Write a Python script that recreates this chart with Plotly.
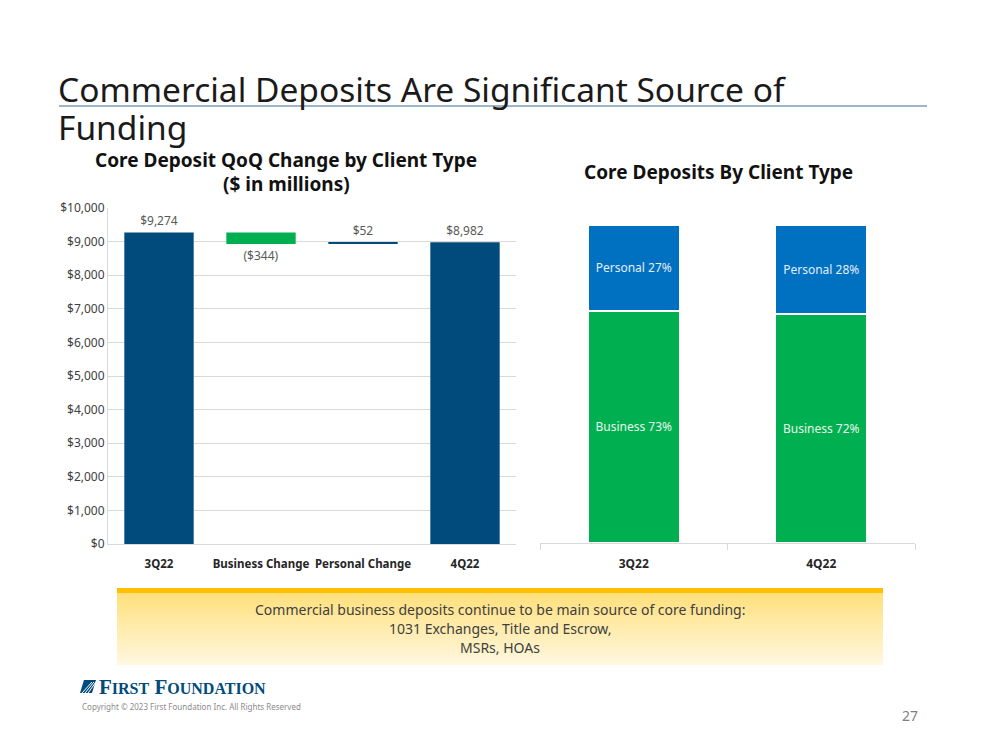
import plotly.graph_objects as go

W, H = 999, 750
def px(x): return x / W
def py(y): return 1 - y / H

# ---- Data ----
wf_categories = ["3Q22", "Business Change", "Personal Change", "4Q22"]
wf_measures = ["absolute", "relative", "relative", "total"]
wf_values = [9274, -344, 52, 8982]
wf_labels = ["$9,274", "($344)", "$52", "$8,982"]
y_ticks = [0, 1000, 2000, 3000, 4000, 5000, 6000, 7000, 8000, 9000, 10000]

stack_categories = ["3Q22", "4Q22"]
business_pct = [73, 72]
personal_pct = [27, 28]

NAVY = "#004A7C"
GREEN = "#00B050"
BLUE = "#0070C0"
FONT = "Noto Sans"

fig = go.Figure()

fig.add_trace(go.Waterfall(
    x=wf_categories, y=wf_values, measure=wf_measures,
    text=wf_labels, textposition="outside",
    textfont=dict(family=FONT, size=12, color="#595959"),
    increasing=dict(marker=dict(color=NAVY)),
    decreasing=dict(marker=dict(color=GREEN)),
    totals=dict(marker=dict(color=NAVY)),
    connector=dict(visible=False),
    width=0.68, cliponaxis=False,
    xaxis="x", yaxis="y", showlegend=False, hoverinfo="skip",
))

fig.add_trace(go.Bar(
    x=stack_categories, y=business_pct, name="Business",
    text=[f"Business {v}%" for v in business_pct],
    textposition="inside", insidetextanchor="middle",
    textfont=dict(family=FONT, size=12, color="#E8F5EC"),
    marker=dict(color=GREEN, line=dict(color="white", width=1.5)),
    width=0.49, xaxis="x2", yaxis="y2", showlegend=False, hoverinfo="skip",
))
fig.add_trace(go.Bar(
    x=stack_categories, y=personal_pct, name="Personal",
    text=[f"Personal {v}%" for v in personal_pct],
    textposition="inside", insidetextanchor="middle",
    textfont=dict(family=FONT, size=12, color="#E3EEF9"),
    marker=dict(color=BLUE, line=dict(color="white", width=1.5)),
    width=0.49, xaxis="x2", yaxis="y2", showlegend=False, hoverinfo="skip",
))

shapes = []
# title underline
shapes.append(dict(type="line", xref="paper", yref="paper", x0=px(59), x1=px(927),
                   y0=py(106), y1=py(106), line=dict(color="#7F9DB9", width=1.5)))
# gradient box
top, bot, left, right = 593, 665, 117, 883
n = 24
c0 = (255, 224, 125); c1 = (255, 247, 222)
for i in range(n):
    t = i / (n - 1)
    c = tuple(round(c0[k] + (c1[k] - c0[k]) * t) for k in range(3))
    y0 = top + (bot - top) * i / n
    y1 = top + (bot - top) * (i + 1) / n
    shapes.append(dict(type="rect", xref="paper", yref="paper", x0=px(left), x1=px(right),
                       y0=py(y1), y1=py(y0) + 0.0005, fillcolor="rgb(%d,%d,%d)" % c, line=dict(width=0), layer="below"))
shapes.append(dict(type="rect", xref="paper", yref="paper", x0=px(left), x1=px(right),
                   y0=py(593), y1=py(588), fillcolor="#FFC000", line=dict(width=0)))
# logo icon
shapes.append(dict(type="path", xref="paper", yref="paper",
                   path="M %f %f L %f %f L %f %f L %f %f Z" % (px(80), py(693), px(84), py(680), px(96), py(680), px(92), py(693)),
                   fillcolor=NAVY, line=dict(width=0)))
for k in range(3):
    shapes.append(dict(type="line", xref="paper", yref="paper",
                       x0=px(82 + k * 3), y0=py(693), x1=px(92 + k * 2), y1=py(682),
                       line=dict(color="white", width=1)))

annotations = []
def ann(text, x, y, size, color="#000000", bold=False, xanchor="center", yanchor="middle", family=FONT, align="center"):
    if bold:
        text = "<b>" + text + "</b>"
    annotations.append(dict(text=text, x=px(x), y=py(y), xref="paper", yref="paper",
                            showarrow=False, xanchor=xanchor, yanchor=yanchor, align=align,
                            font=dict(family=family, size=size, color=color)))

ann("Commercial Deposits Are Significant Source of", 56, 89, 33.5, "#1a1a1a", xanchor="left")
ann("Funding", 56, 127, 33.5, "#1a1a1a", xanchor="left")
ann("Core Deposit QoQ Change by Client Type", 286, 160, 19, "#111111", bold=True)
ann("($ in millions)", 286, 184, 19, "#111111", bold=True)
ann("Core Deposits By Client Type", 718, 172, 19, "#111111", bold=True)
ann("Commercial business deposits continue to be main source of core funding:", 500, 609, 14, "#404040")
ann("1031 Exchanges, Title and Escrow,", 500, 628, 14, "#404040")
ann("MSRs, HOAs", 500, 647, 14, "#404040")
ann("<b>F<span style='font-size:16px'>IRST</span> F<span style='font-size:16px'>OUNDATION</span></b>",
    97, 687, 21, NAVY, xanchor="left", family="Liberation Serif")
ann("Copyright © 2023 First Foundation Inc. All Rights Reserved", 80, 706, 8, "#8c8c8c", xanchor="left")
ann("27", 910, 715, 14, "#7f7f7f")

grid = "#D9D9D9"
fig.update_layout(
    width=W, height=H, margin=dict(l=0, r=0, t=0, b=0, autoexpand=False),
    paper_bgcolor="white", plot_bgcolor="rgba(0,0,0,0)",
    barmode="stack", shapes=shapes, annotations=annotations,
    font=dict(family=FONT),
    xaxis=dict(domain=[px(108), px(516)], showline=True, linecolor=grid, linewidth=1,
               tickfont=dict(family=FONT, size=11.5, color="#262626"), ticks="",
               tickangle=0, automargin=False, ticklabelstandoff=9,
               tickprefix="<b>", ticksuffix="</b>", fixedrange=True),
    yaxis=dict(domain=[py(544), py(208)], range=[0, 10000], tickvals=y_ticks,
               tickformat="$,d", showgrid=True, gridcolor=grid, gridwidth=1,
               showline=True, linecolor=grid, zeroline=False, automargin=False,
               tickfont=dict(family=FONT, size=12, color="#404040")),
    xaxis2=dict(domain=[px(540), px(915)], anchor="y2", showline=True, linecolor=grid, linewidth=1,
                ticks="outside", tickson="boundaries", ticklen=6, tickcolor=grid,
                tickangle=0, automargin=False, ticklabelstandoff=10,
                tickfont=dict(family=FONT, size=12, color="#262626"),
                tickprefix="<b>", ticksuffix="</b>"),
    yaxis2=dict(domain=[py(543), py(225)], anchor="x2", range=[0, 100], visible=False),
)

fig.write_html("out.html")
